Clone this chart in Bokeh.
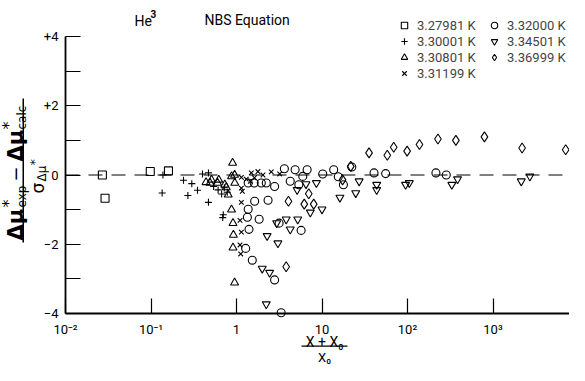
import math
from bokeh.plotting import figure
from bokeh.models import (Range1d, FixedTicker, CustomJSTickFormatter, Label,
                          Legend, LegendItem, BoxAnnotation)
from bokeh.embed import file_html
from bokeh.resources import INLINE

# ---- data ----
sq_x = [0.027, 0.029, 0.098, 0.16]
sq_y = [0.0, -0.67, 0.10, 0.12]

pl_x = [0.138, 0.135, 0.24, 0.30, 0.27, 0.35, 0.40, 0.47, 0.47, 0.54, 0.61, 0.67, 0.70, 0.69, 0.72, 0.78]
pl_y = [0.0, -0.52, -0.15, -0.25, -0.59, -0.44, 0.03, 0.06, -0.79, -0.33, -0.43, -0.55, -1.15, -1.23, -0.37, -0.50]

tu_x = [0.90, 0.44, 0.51, 0.49, 0.60, 0.62, 0.73, 0.76, 0.80, 0.875, 0.955, 0.95, 0.875, 0.91, 0.92, 0.91, 0.95]
tu_y = [0.35, -0.21, -0.14, -0.23, -0.23, -0.14, -0.28, -0.36, -0.57, -0.04, -0.23, 0.0, -1.0, -1.39, -1.73, -2.10, -3.11]

xx_x = [1.14, 1.14, 1.17, 1.14, 1.10, 1.14, 1.10, 1.12, 1.49, 1.78, 2.04, 2.55, 3.2, 1.45, 1.62, 1.30]
xx_y = [-0.07, -0.38, -0.47, -0.79, -1.31, -1.65, -2.02, -2.28, 0.06, 0.10, 0.0, 0.09, 0.03, -0.18, -0.08, -0.12]

ci_x = [1.37, 1.61, 1.95, 2.23, 2.79, 1.37, 1.63, 2.34, 1.34, 1.84, 1.40, 1.28, 1.53, 2.79, 3.33,
        3.15, 4.25, 5.36, 5.96, 4.85, 6.7, 10.2, 13.7, 17.8, 22.3, 40.6, 55.5, 215, 284, 5.7, 3.63, 15.5]
ci_y = [-0.23, -0.23, -0.23, -0.23, -0.33, -0.99, -0.76, -0.73, -1.22, -1.28, -1.57, -2.12, -2.46, -3.03, -3.98,
        -1.39, -0.18, -0.28, -0.04, 0.15, 0.15, 0.03, 0.15, -0.28, 0.23, 0.06, 0.04, 0.06, 0.0, -1.60, 0.18, -0.05]

td_x = [2.95, 3.81, 5.2, 4.25, 2.28, 3.05, 2.0, 2.44, 2.23, 5.12, 6.5, 7.3, 10.0, 8.6, 16.2, 24.8, 27.2,
        43.6, 43.6, 95, 105, 330, 385, 2140, 2700]
td_y = [-1.39, -1.28, -1.28, -1.57, -1.76, -1.97, -2.70, -2.82, -3.73, -0.43, -0.26, -1.08, -0.99, -0.23, -0.65, -0.52, -0.18,
        -0.28, -0.43, -0.28, -0.23, -0.28, -0.12, -0.18, -0.04]

di_x = [4.05, 6.2, 8.0, 7.0, 3.81, 17.4, 21.7, 35.5, 58, 69, 99, 138, 227, 368, 794, 2190, 7080]
di_y = [-0.76, -0.84, -0.84, -0.54, -2.65, -0.14, 0.25, 0.64, 0.57, 0.80, 0.69, 0.88, 1.04, 1.00, 1.10, 0.78, 0.73]

legend_labels = ["3.27981 K", "3.30001 K", "3.30801 K", "3.31199 K", "3.32000 K", "3.34501 K", "3.36999 K"]
x_ticks = [0.01, 0.1, 1, 10, 100, 1000, 10000]
y_ticks = [-4, -3, -2, -1, 0, 1, 2, 3, 4]
y_lo, y_hi = -4, 4
x_lo = 0.01

FONT = "Roboto"
W, H = 569, 365
# page geometry of the plotting box (page px)
AX_L = 73                       # y axis position
DEC = 85.5                      # px per decade
UNIT = 34.625                   # px per y unit
Y0 = 182.5                      # page y of the zero line

x_start = 10 ** (math.log10(x_lo) - (AX_L - 8) / DEC)
x_end = 10 ** (math.log10(x_lo) + (8 + W - AX_L) / DEC)
y_top = (Y0 - 8) / UNIT
y_bot = (Y0 - (8 + H)) / UNIT

p = figure(width=W, height=H, x_axis_type="log",
           x_range=Range1d(x_start, x_end), y_range=Range1d(y_bot, y_top),
           output_backend="svg", toolbar_location=None,
           min_border_left=0, min_border_right=0, min_border_top=0, min_border_bottom=0)
p.outline_line_color = None
p.xgrid.visible = False
p.ygrid.visible = False
p.background_fill_color = "white"
p.border_fill_color = "white"

# axes drawn at fixed data locations inside the canvas
p.xaxis.fixed_location = y_lo
p.xaxis.bounds = (x_lo, x_end)
p.yaxis.fixed_location = x_lo
p.yaxis.bounds = (y_lo, y_hi)

p.xaxis.ticker = FixedTicker(ticks=x_ticks, minor_ticks=[])
p.xaxis.formatter = CustomJSTickFormatter(code="""
const e = Math.round(Math.log10(tick));
const sup = {"-2": "\u207b\u00b2", "-1": "\u207b\u00b9", "2": "\u00b2", "3": "\u00b3", "4": "\u2074"};
if (e == 0) return "1";
if (e == 1) return "10";
return "10" + sup[String(e)];
""")
p.yaxis.ticker = FixedTicker(ticks=y_ticks, minor_ticks=[])
p.yaxis.formatter = CustomJSTickFormatter(code="""
if (Math.abs(Math.round(tick)) % 2 == 1) return "";
if (tick > 0) return "+" + tick;
if (tick < 0) return "\u2212" + Math.abs(tick);
return "0";
""")
for ax in (p.xaxis, p.yaxis):
    ax.major_tick_in = 15
    ax.major_tick_out = 0
    ax.minor_tick_in = 0
    ax.minor_tick_out = 0
    ax.axis_line_width = 1.8
    ax.axis_line_color = "black"
    ax.major_tick_line_color = "black"
    ax.major_tick_line_width = 1.2
    ax.major_label_text_font = FONT
    ax.major_label_text_font_size = "13px"
    ax.major_label_text_color = "black"
p.xaxis.major_label_standoff = 8
p.yaxis.major_label_standoff = 7

# zero reference line (dashed), from the y axis to the right edge
p.segment(x0=[x_lo], y0=[0], x1=[x_end], y1=[0], line_color="black", line_width=1, line_dash="14 9")

common = dict(fill_color=None, line_color="black", line_width=1.1)
r_sq = p.scatter(sq_x, sq_y, marker="square", size=8, **common)
r_pl = p.scatter(pl_x, pl_y, marker="cross", size=7, **common)
r_tu = p.scatter(tu_x, tu_y, marker="triangle", size=8, **common)
r_xx = p.scatter(xx_x, xx_y, marker="x", size=6.5, **common)
r_ci = p.scatter(ci_x, ci_y, marker="circle", size=8, **common)
r_td = p.scatter(td_x, td_y, marker="inverted_triangle", size=8, **common)
r_di = p.scatter(di_x, di_y, marker="diamond", size=10, **common)

renderers = [r_sq, r_pl, r_tu, r_xx, r_ci, r_td, r_di]
items = [LegendItem(label=lab, renderers=[r]) for lab, r in zip(legend_labels, renderers)]
legend = Legend(items=items, location=(404 - 8, 8 + H - 89), orientation="vertical", nrows=4,
                glyph_width=16, glyph_height=16, label_height=16, label_width=69,
                label_standoff=5, spacing=0, padding=0, margin=0,
                label_text_font=FONT, label_text_font_size="13px",
                background_fill_alpha=0, border_line_color=None)
p.add_layout(legend)


# helpers: page coordinates -> screen coords relative to the frame (= whole canvas)
def lab(text, px, py, size, angle=0.0, align="left", bold=False, font=FONT):
    p.add_layout(Label(x=px - 8, y=8 + H - py, x_units="screen", y_units="screen", text=text,
                       text_font=font, text_font_size=f"{size}px", angle=angle,
                       text_align=align, text_baseline="alphabetic",
                       text_font_style="bold" if bold else "normal", text_color="black"))


def bar(x0, x1, y0, y1):
    p.add_layout(BoxAnnotation(left=x0 - 8, right=x1 - 8, top=8 + H - y0, bottom=8 + H - y1,
                               left_units="screen", right_units="screen",
                               top_units="screen", bottom_units="screen",
                               fill_color="black", fill_alpha=1, line_color=None))


# titles
lab("He", 142, 28, 14)
lab("3", 158, 21, 10, bold=True)
lab("NBS Equation", 212, 27, 14)

# y-axis label fraction (rotated, reads bottom to top)
A = math.pi / 2
G = "DejaVu Sans"
lab("\u0394\u03bc", 23, 248, 21, A, bold=True, font=G)
lab("*", 16, 215, 16, A, font=G)
lab("exp", 29, 215, 12, A, font=G)
lab("\u2212", 23, 189, 18, A, font=G)
lab("\u0394\u03bc", 23, 169, 21, A, bold=True, font=G)
lab("*", 16, 137, 16, A, font=G)
lab("calc", 29, 137, 12, A, font=G)
bar(30, 31.5, 106, 250)
lab("\u03c3", 45, 201, 17, A, font=G)
lab("\u0394\u03bc", 49, 189, 12, A, font=G)
lab("*", 42, 173, 13, A, font=G)

# x-axis label fraction
lab("X + X\u2080", 332, 349, 14, align="center")
bar(309, 355, 353, 354.3)
lab("X\u2080", 332, 365, 13, align="center")

open("out.html", "w").write(file_html(p, INLINE))
